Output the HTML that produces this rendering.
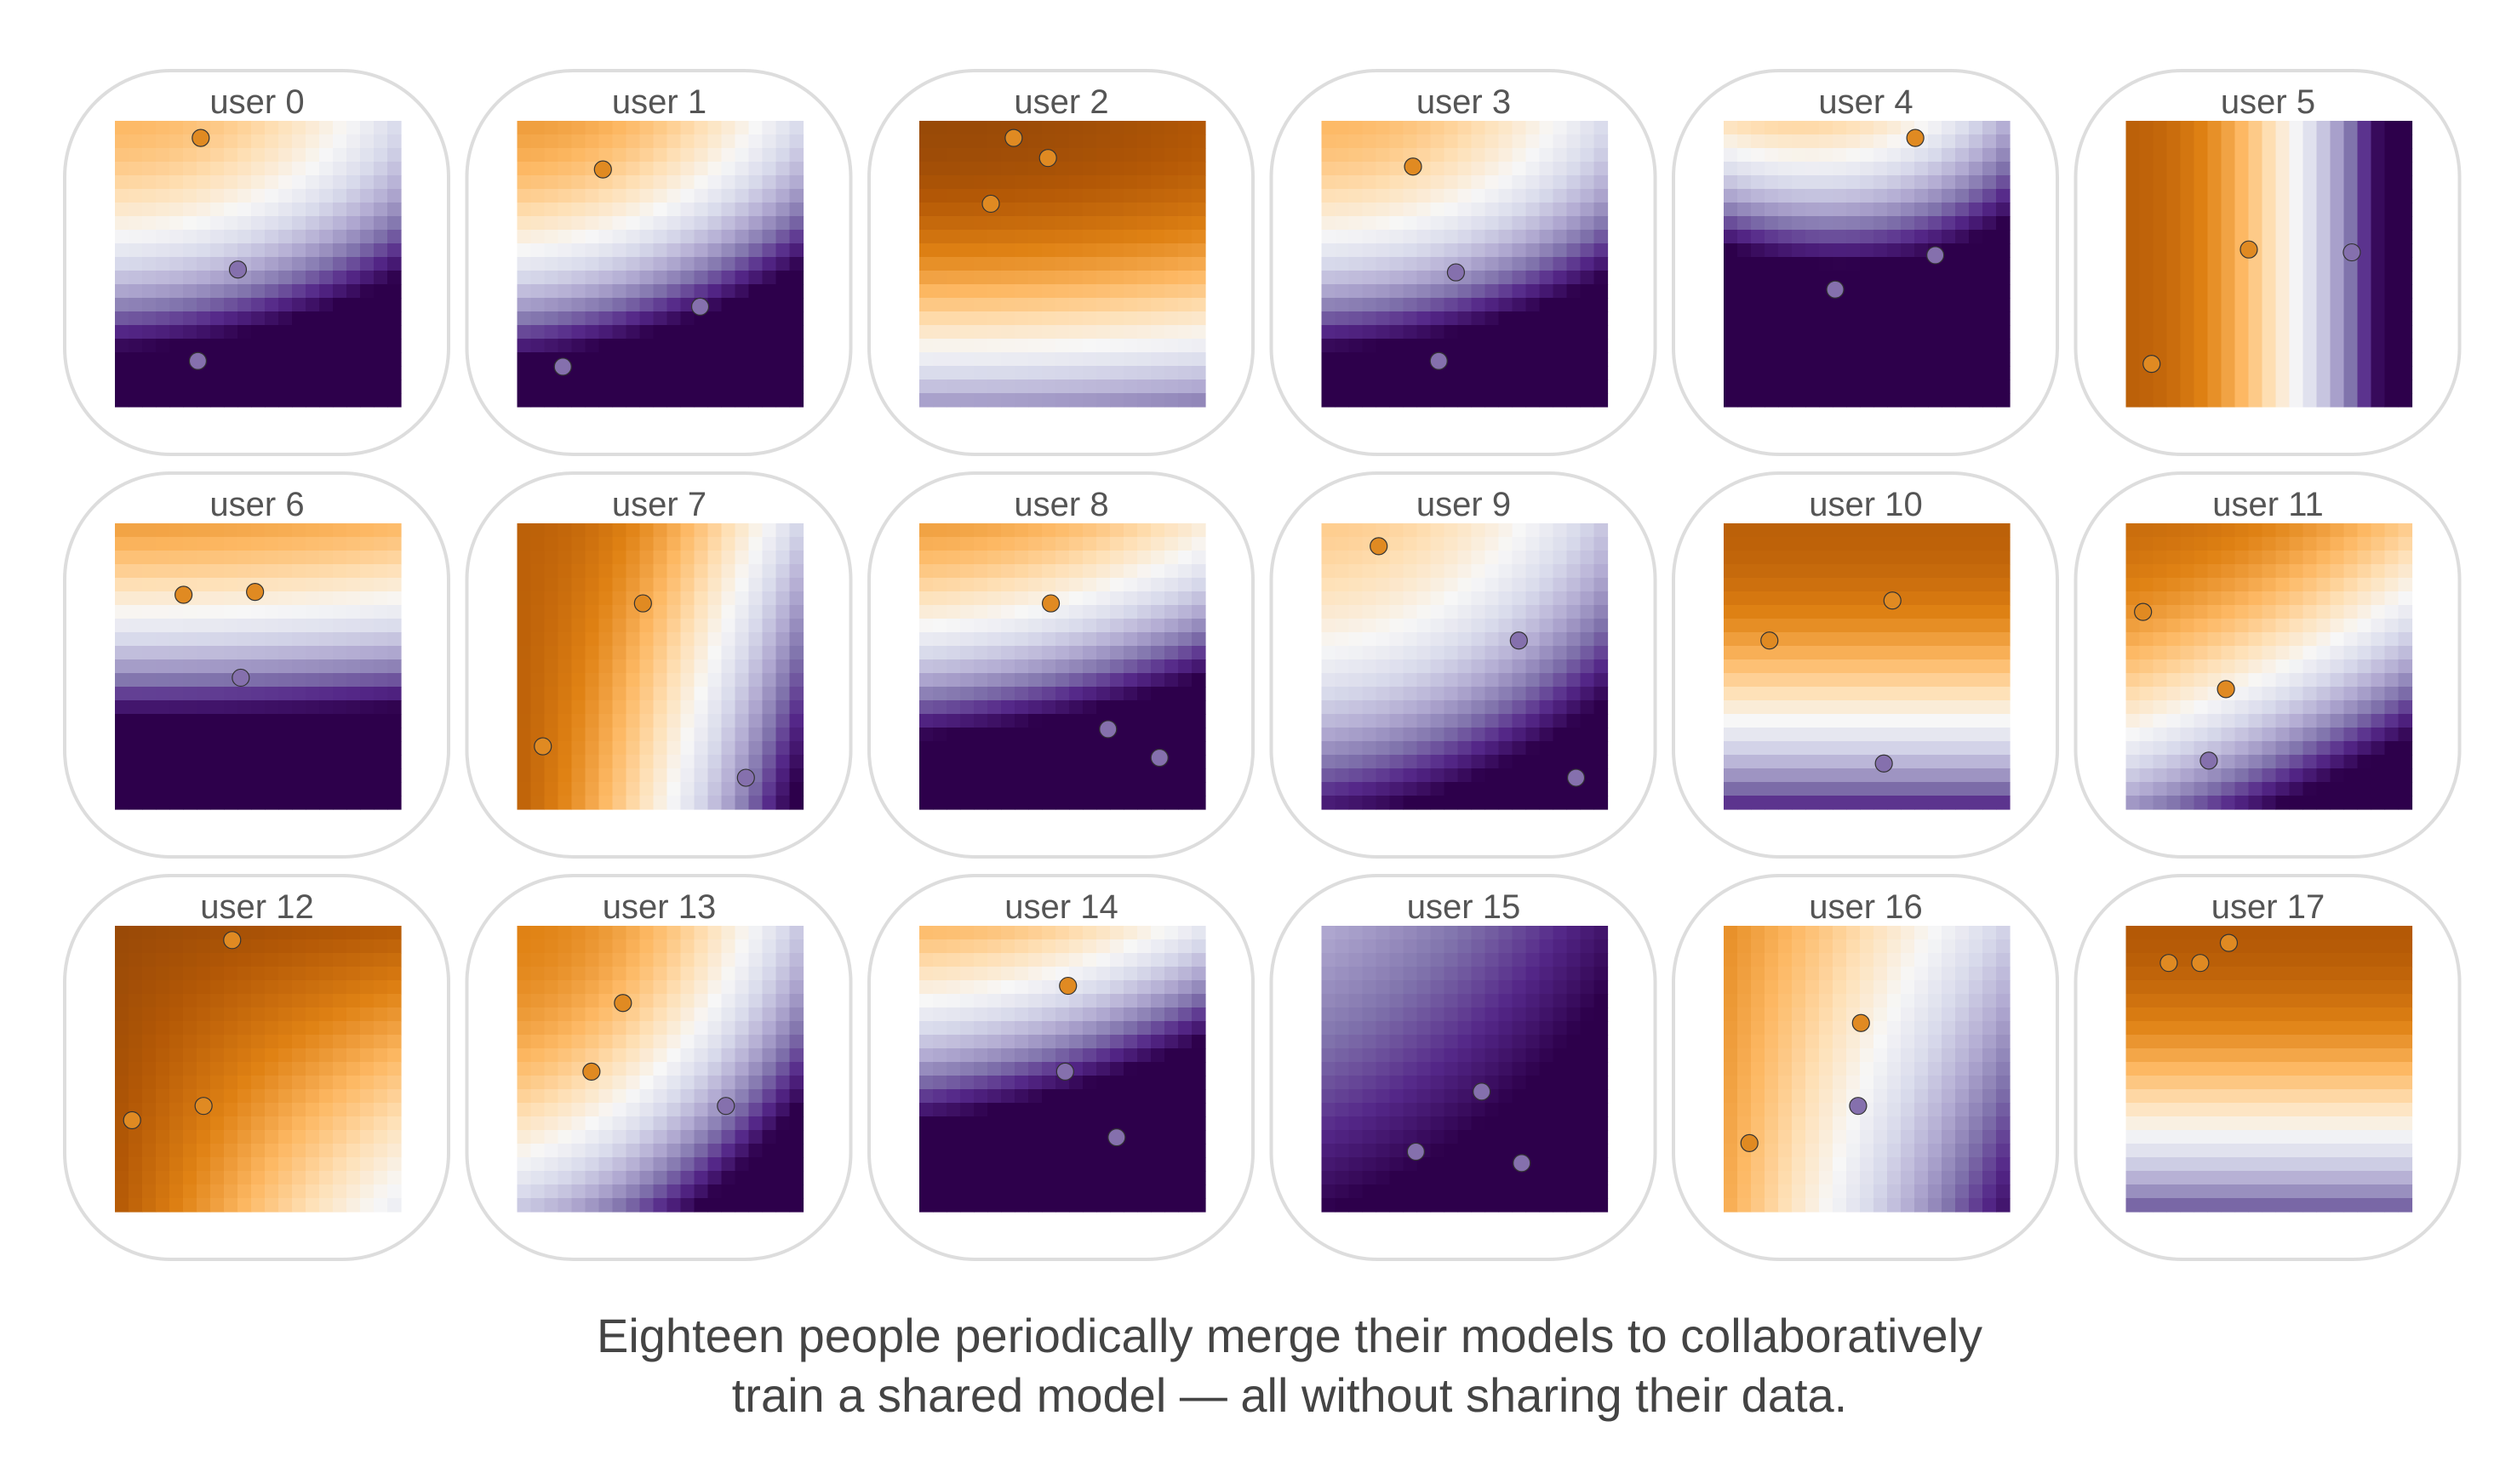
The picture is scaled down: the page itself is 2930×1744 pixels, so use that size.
<!DOCTYPE html>
<html><head><meta charset="utf-8"><style>
html,body{margin:0;padding:0;background:#fff;}
body{width:2930px;height:1744px;position:relative;overflow:hidden;font-family:"Liberation Sans",sans-serif;}
#cap{position:absolute;left:50px;width:2930px;top:1535px;text-align:center;font-size:56px;line-height:70px;color:#444;}
</style></head><body>
<svg id="chart" width="2930" height="1500" style="position:absolute;left:0;top:0"></svg>
<div id="cap">Eighteen people periodically merge their models to collaboratively<br>train a shared model — all without sharing their data.</div>
<script>
// per-user decision-field coefficients: t = a + bx*x + by*y + cx*x^2 + cy*y^2 + cxy*x*y
const users = ["user 0","user 1","user 2","user 3","user 4","user 5","user 6","user 7","user 8","user 9","user 10","user 11","user 12","user 13","user 14","user 15","user 16","user 17"];
const fieldA   = [.3,.25,.05,.3,.4,.12,.25,.12,.25,.35,.12,.15,.05,.2,.3,.7,.22,.1];
const fieldBx  = [0,0,0,0,-.3,0,0,0,0,0,0,0,.05,0,0,.15,.3,0];
const fieldBy  = [.15,.15,0,.15,1.0,0,.5,0,.4,.15,0,.1,.05,0,.6,.2,.05,.05];
const fieldCx  = [.3,.35,.05,.3,.6,1.1,.05,.5,.2,.3,0,.2,0,.45,.25,.1,.1,0];
const fieldCy  = [.9,.9,.7,.9,.8,0,.9,0,.8,.45,.8,.5,0,.45,.6,.1,0,.7];
const fieldCxy = [.1,.2,0,.1,-.4,0,0,.45,.2,.15,0,.4,.4,.3,.3,0,.3,0];
// data points per user: x, y (0..1 in panel), class (0 orange, 1 purple)
const pointsX = [[.30,.43,.29],[.30,.64,.16],[.33,.45,.25],[.32,.47,.41],[.67,.74,.39],[.43,.09,.79],[.24,.49,.44],[.44,.09,.8],[.46,.66,.84],[.2,.69,.89],[.59,.16,.56],[.06,.35,.29],[.41,.31,.06],[.37,.26,.73],[.52,.51,.69],[.56,.33,.7],[.48,.09,.47],[.15,.26,.36]];
const pointsY = [[.06,.52,.84],[.17,.65,.86],[.06,.13,.29],[.16,.53,.84],[.06,.47,.59],[.45,.85,.46],[.25,.24,.54],[.28,.78,.89],[.28,.72,.82],[.08,.41,.89],[.27,.41,.84],[.31,.58,.83],[.05,.63,.68],[.27,.51,.63],[.21,.51,.74],[.58,.79,.83],[.34,.76,.63],[.13,.13,.06]];
const pointsC = [[0,1,1],[0,1,1],[0,0,0],[0,1,1],[0,1,1],[0,0,1],[0,0,1],[0,0,1],[0,1,1],[0,1,1],[0,0,1],[0,0,1],[0,0,0],[0,0,1],[0,1,1],[1,1,1],[0,0,1],[0,0,0]];

const stops=["#7f3b08","#b35806","#e08214","#fdb863","#fee0b6","#f7f7f7","#d8daeb","#b2abd2","#8073ac","#542788","#2d004b"];
function hex(h){return [1,3,5].map(i=>parseInt(h.substr(i,2),16));}
const S=stops.map(hex);
function cmap(t){t=Math.max(0,Math.min(1,t));const p=t*10,i=Math.min(9,Math.floor(p)),f=p-i;
 const c=S[i].map((v,k)=>Math.round(v+(S[i+1][k]-v)*f));return `rgb(${c[0]},${c[1]},${c[2]})`;}
const NS="http://www.w3.org/2000/svg";
const svg=document.getElementById('chart');
function mk(tag,attrs,parent){const e=document.createElementNS(NS,tag);for(const k in attrs)e.setAttribute(k,attrs[k]);parent.appendChild(e);return e;}
const N=21,CELL=16,HM=N*CELL;
users.forEach((name,u)=>{
 const c=u%6,r=Math.floor(u/6);
 const px=76+472.5*c,py=83+473*r;
 const g=mk('g',{},svg);
 
 
 const box=mk('rect',{x:px,y:py,width:451,height:451,rx:125,ry:125,fill:'none',stroke:'#dddddd','stroke-width':4},g);
 
 
 const title=mk('text',{x:px+226,y:py+50,'text-anchor':'middle','font-size':40,fill:'#555','font-family':'Liberation Sans, sans-serif'},g);
 title.textContent=name;
 
 
 const hx=px+59,hy=py+59;
 const hm=mk('g',{},g);
 
 
 for(let i=0;i<N;i++)for(let j=0;j<N;j++){
  const x=(i+0.5)/N,y=(j+0.5)/N;
  const t=fieldA[u]+fieldBx[u]*x+fieldBy[u]*y+fieldCx[u]*x*x+fieldCy[u]*y*y+fieldCxy[u]*x*y;
  const cell=mk('rect',{x:hx+i*CELL,y:hy+j*CELL,width:CELL+0.6,height:CELL+0.6,fill:cmap(t)},hm);
  
  
 }
 pointsX[u].forEach((vx,k)=>{
  const dot=mk('circle',{cx:hx+vx*HM,cy:hy+pointsY[u][k]*HM,r:10,fill:pointsC[u][k]?'#8570ad':'#e08a22',stroke:'#333','stroke-width':1.2},g);
  
  
 });
});
</script>
</body></html>
